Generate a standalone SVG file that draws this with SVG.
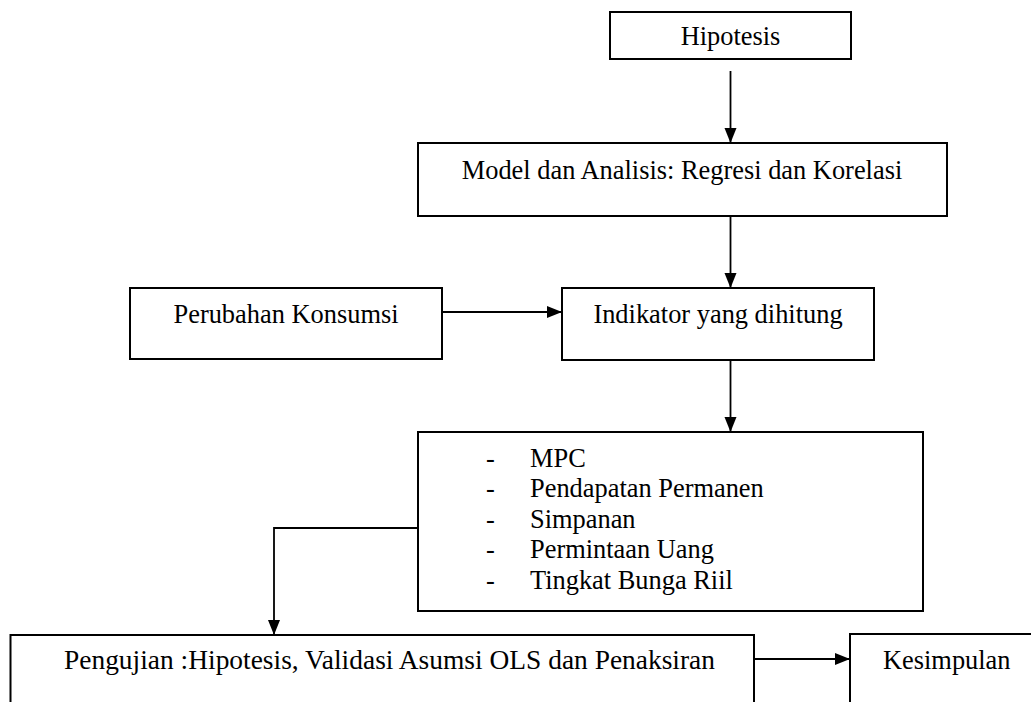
<svg xmlns="http://www.w3.org/2000/svg" width="1031" height="702" viewBox="0 0 1031 702">
<style>
.box{fill:#fff;stroke:#000;stroke-width:2}
.t{font-family:'Liberation Serif','DejaVu Serif',serif;font-size:26.4px;fill:#000}
.c{text-anchor:middle}
.ln{fill:none;stroke:#000;stroke-width:1.8}
</style>
<defs>
<marker id="ah" markerUnits="userSpaceOnUse" markerWidth="16" markerHeight="14" refX="15" refY="6" orient="auto">
<path d="M0,0 L15,6 L0,12 z" fill="#000"/>
</marker>
</defs>
<rect width="1031" height="702" fill="#fff"/>
<g id="connectors">
<line class="ln" x1="730.5" y1="71" x2="730.5" y2="143" marker-end="url(#ah)"/>
<line class="ln" x1="730.5" y1="216" x2="730.5" y2="288" marker-end="url(#ah)"/>
<line class="ln" x1="442" y1="312" x2="562" y2="312" marker-end="url(#ah)"/>
<line class="ln" x1="730.5" y1="360" x2="730.5" y2="432" marker-end="url(#ah)"/>
<polyline class="ln" points="418,528 274,528 274,635" marker-end="url(#ah)"/>
<line class="ln" x1="754" y1="659" x2="850" y2="659" marker-end="url(#ah)"/>
</g>
<g id="hipotesis">
<rect class="box" x="610" y="12" width="241" height="47"/>
<text class="t c" font-family="Liberation Serif, serif" x="730.5" y="45">Hipotesis</text>
</g>
<g id="model">
<rect class="box" x="418" y="143" width="529" height="73"/>
<text class="t c" font-family="Liberation Serif, serif" x="682" y="179">Model dan Analisis: Regresi dan Korelasi</text>
</g>
<g id="perubahan">
<rect class="box" x="130" y="288" width="312" height="71"/>
<text class="t c" font-family="Liberation Serif, serif" x="286" y="323">Perubahan Konsumsi</text>
</g>
<g id="indikator">
<rect class="box" x="562" y="288" width="312" height="72"/>
<text class="t c" font-family="Liberation Serif, serif" x="718" y="323">Indikator yang dihitung</text>
</g>
<g id="daftar">
<rect class="box" x="418" y="432" width="505" height="179"/>
<g class="t" font-family="Liberation Serif, serif">
<text x="486" y="467">-</text><text x="530" y="467">MPC</text>
<text x="486" y="497.4">-</text><text x="530" y="497.4">Pendapatan Permanen</text>
<text x="486" y="527.8">-</text><text x="530" y="527.8">Simpanan</text>
<text x="486" y="558.2">-</text><text x="530" y="558.2">Permintaan Uang</text>
<text x="486" y="588.6">-</text><text x="530" y="588.6">Tingkat Bunga Riil</text>
</g>
</g>
<g id="pengujian">
<rect class="box" x="10.5" y="635" width="743.5" height="80"/>
<text class="t" font-family="Liberation Serif, serif" x="64" y="669" textLength="651" lengthAdjust="spacingAndGlyphs">Pengujian :Hipotesis, Validasi Asumsi OLS dan Penaksiran</text>
</g>
<g id="kesimpulan">
<rect class="box" x="850" y="634" width="200" height="80"/>
<text class="t" font-family="Liberation Serif, serif" x="883" y="669">Kesimpulan</text>
</g>
</svg>
